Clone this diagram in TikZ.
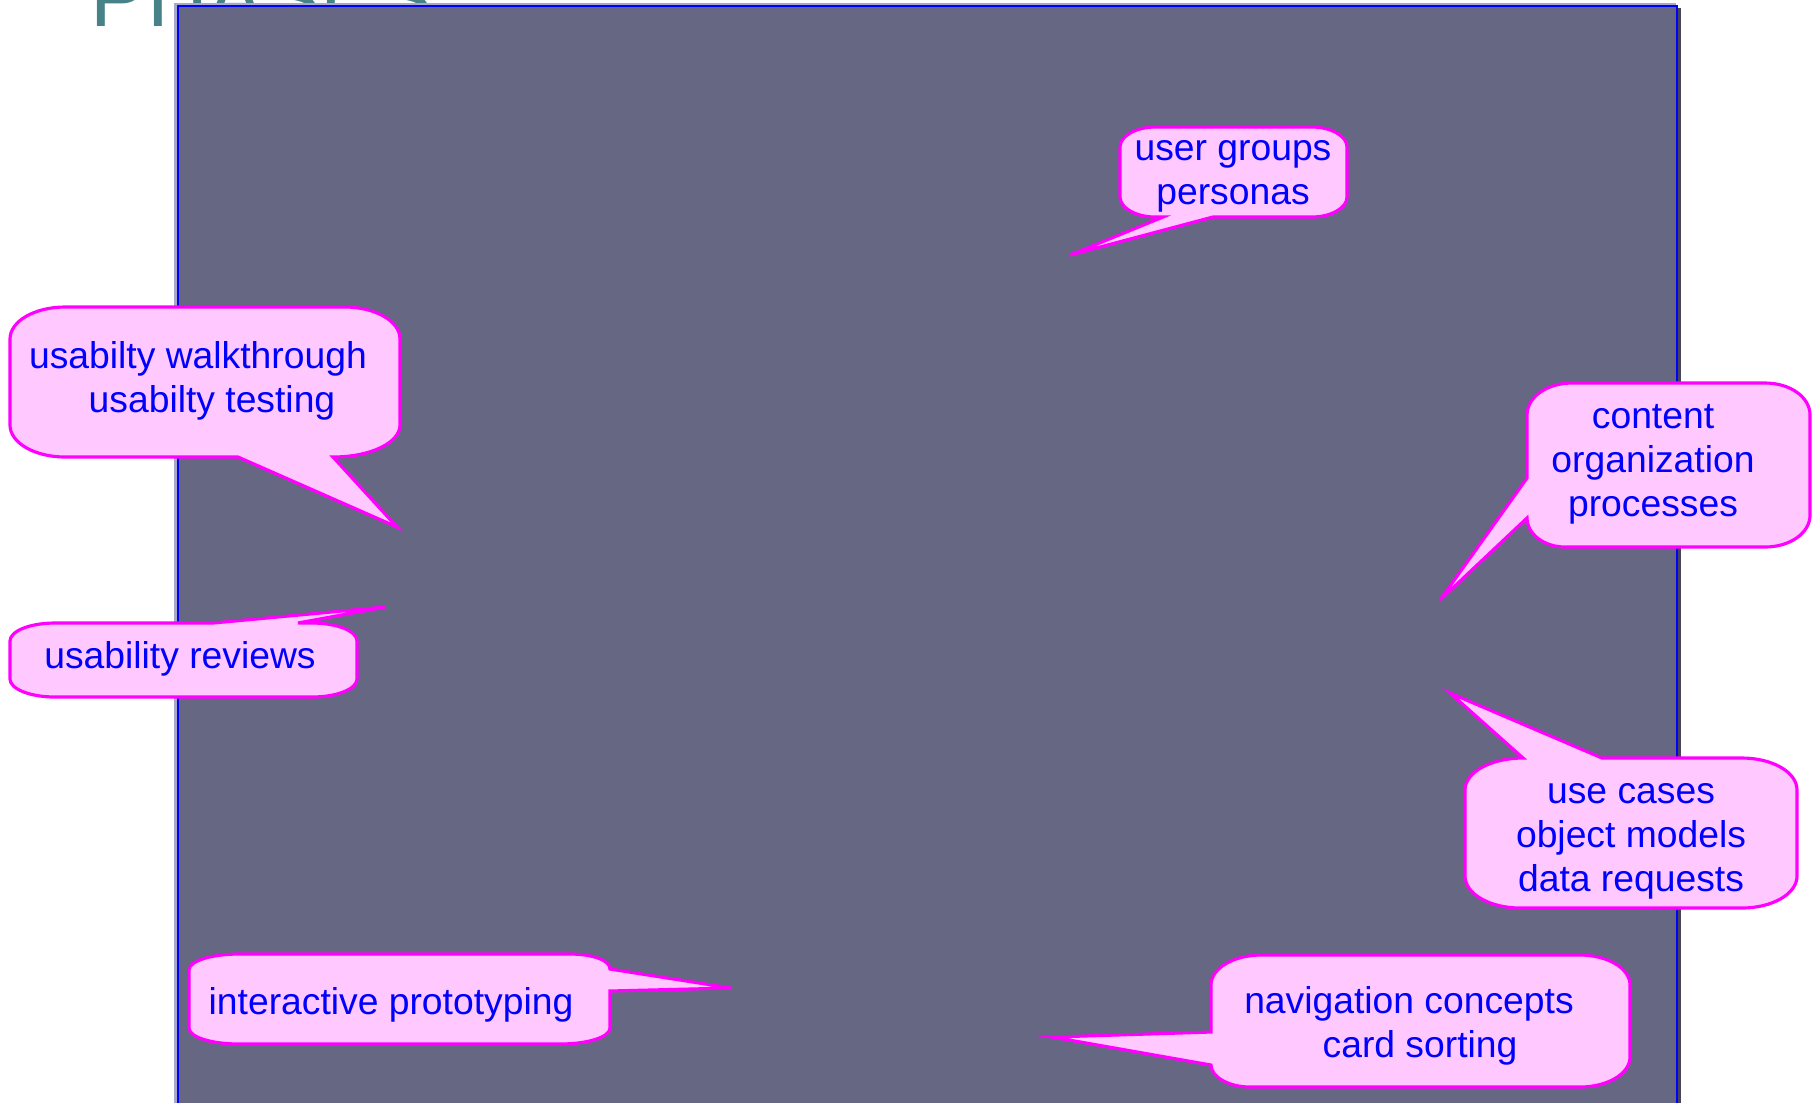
\documentclass[tikz,border=0pt]{standalone}
\usepackage{fontspec}
\setmainfont{Liberation Sans}
\usepackage{xcolor}
\usepackage{tikz}

\definecolor{slide}{RGB}{101,103,131}
\definecolor{bevel}{RGB}{168,168,200}
\definecolor{bevelshade}{RGB}{70,70,90}
\definecolor{titleteal}{RGB}{70,130,135}
\definecolor{calloutfill}{RGB}{255,200,255}
\definecolor{calloutedge}{RGB}{255,0,255}

\begin{document}
\begin{tikzpicture}[
  x=0.01cm, y=-0.01cm,
  bubble/.style={draw=calloutedge, fill=calloutfill, line width=0.9pt},
  bubbletext/.style={text=blue, align=center, inner sep=0pt,
    font=\fontsize{10.6}{12.5}\selectfont}
]
  \useasboundingbox (0,0) rectangle (1819,1102);
  \clip (0,0) rectangle (1819,1102);

  % title, mostly cut off
  \node[anchor=base west, inner sep=0pt, text=titleteal,
    font=\fontsize{24}{24}\selectfont] (title) at (90,26) {PHASES};

  % slide
  \fill[bevel] (174,3) rectangle (1676,1110);
  \fill[bevelshade] (1678,8) rectangle (1681,1110);
  \filldraw[fill=slide, draw=blue, line width=0.6pt] (178,6) rectangle (1677,1110);

  % callouts
  \coordinate (groupstip) at (1070,255);
  \draw[bubble] (1155,127) -- (1312,127) .. controls (1331,127) and (1347,136) .. (1347,147)
    -- (1347,197) .. controls (1347,208) and (1331,217) .. (1312,217) -- (1213,217)
    -- (groupstip) -- (1163,217)
    -- (1155,217) .. controls (1136,217) and (1120,208) .. (1120,197)
    -- (1120,147) .. controls (1120,136) and (1136,127) .. (1155,127) -- cycle;
  \node[bubbletext] (groups) at (1233,176) {user groups\\personas};

  \coordinate (walkthroughtip) at (397,527);
  \draw[bubble] (65,307) -- (345,307) .. controls (375,307) and (400,321) .. (400,339)
    -- (400,425) .. controls (400,443) and (370,457) .. (333,457) -- (walkthroughtip)
    -- (238,457) -- (65,457) .. controls (35,457) and (10,443) .. (10,425)
    -- (10,339) .. controls (10,321) and (35,307) .. (65,307) -- cycle;
  \node[bubbletext] (walkthrough) at (212,381)
    {usabilty walkthrough\hspace*{0.28cm}\\usabilty testing};

  \coordinate (reviewstip) at (385,607);
  \draw[bubble] (55,623) -- (213,623) -- (reviewstip) -- (298,623)
    -- (312,623) .. controls (337,623) and (357,631) .. (357,641)
    -- (357,679) .. controls (357,689) and (337,697) .. (312,697)
    -- (55,697) .. controls (30,697) and (10,689) .. (10,679)
    -- (10,641) .. controls (10,631) and (30,623) .. (55,623) -- cycle;
  \node[bubbletext] (reviews) at (180,659) {usability reviews};

  \coordinate (contenttip) at (1440,600);
  \draw[bubble] (1572,383) -- (1765,383) .. controls (1790,383) and (1810,397) .. (1810,415)
    -- (1810,515) .. controls (1810,533) and (1790,547) .. (1765,547)
    -- (1565,547) .. controls (1544,547) and (1527,534) .. (1527,518) -- (contenttip)
    -- (1527,478) -- (1527,415) .. controls (1527,397) and (1547,383) .. (1572,383) -- cycle;
  \node[bubbletext] (content) at (1653,464) {content\\organization\\processes};

  \coordinate (usecasestip) at (1450,693);
  \draw[bubble] (1523,758) -- (usecasestip) -- (1602,758)
    -- (1742,758) .. controls (1772,758) and (1797,772) .. (1797,790)
    -- (1797,876) .. controls (1797,894) and (1772,908) .. (1742,908)
    -- (1520,908) .. controls (1490,908) and (1465,894) .. (1465,876)
    -- (1465,790) .. controls (1465,772) and (1491,758) .. (1523,758) -- cycle;
  \node[bubbletext] (usecases) at (1631,841) {use cases\\object models\\data requests};

  \coordinate (prototypingtip) at (731,988);
  \draw[bubble] (239,954) -- (570,954) .. controls (592,954) and (610,960) .. (610,969)
    -- (prototypingtip) -- (610,991)
    -- (610,1028) .. controls (610,1037) and (588,1044) .. (560,1044)
    -- (239,1044) .. controls (211,1044) and (189,1037) .. (189,1028)
    -- (189,970) .. controls (189,961) and (211,954) .. (239,954) -- cycle;
  \node[bubbletext] (prototyping) at (391,1005) {interactive prototyping};

  \coordinate (navigationtip) at (1052,1037);
  \draw[bubble] (1261,955) -- (1580,955) .. controls (1607,955) and (1630,968) .. (1630,985)
    -- (1630,1057) .. controls (1630,1074) and (1607,1087) .. (1580,1087)
    -- (1250,1087) .. controls (1229,1087) and (1211,1077) .. (1211,1065) -- (navigationtip)
    -- (1211,1032) -- (1211,985) .. controls (1211,968) and (1234,955) .. (1261,955) -- cycle;
  \node[bubbletext] (navigation) at (1420,1026)
    {navigation concepts\hspace*{0.22cm}\\card sorting};
\end{tikzpicture}
\end{document}
